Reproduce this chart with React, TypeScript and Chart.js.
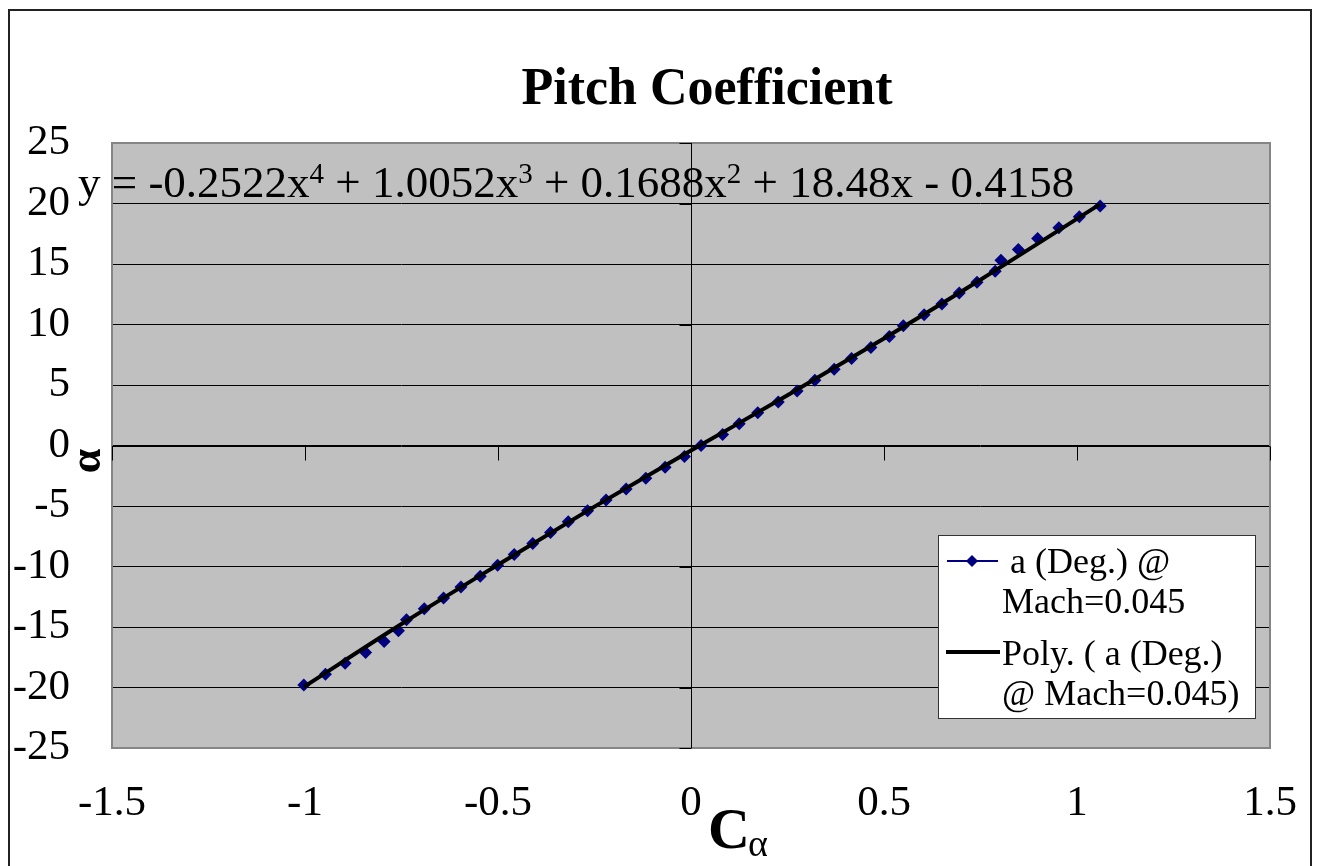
import React, { useEffect, useRef } from "react";
import { Chart, registerables } from "chart.js";

Chart.register(...registerables);

// Measured data: angle of attack (deg) vs pitch coefficient C_alpha
const alphaDeg = [
  -19.8, -18.9, -18.0, -17.1, -16.2, -15.3, -14.4, -13.5, -12.6, -11.7,
  -10.8, -9.9, -9.0, -8.1, -7.2, -6.3, -5.4, -4.5, -3.6, -2.7,
  -1.8, -0.9, 0.0, 0.9, 1.8, 2.7, 3.6, 4.5, 5.4, 6.3,
  7.2, 8.1, 9.0, 9.9, 10.8, 11.7, 12.6, 13.5, 14.4, 15.3,
  16.2, 17.1, 18.0, 18.9, 19.8,
];
const cAlpha = [
  -1.003, -0.947, -0.896, -0.843, -0.795, -0.758, -0.737, -0.691, -0.641, -0.596,
  -0.546, -0.501, -0.458, -0.41, -0.364, -0.318, -0.268, -0.22, -0.168, -0.117,
  -0.067, -0.017, 0.026, 0.082, 0.125, 0.173, 0.226, 0.275, 0.321, 0.371,
  0.416, 0.466, 0.514, 0.55, 0.604, 0.65, 0.695, 0.741, 0.788, 0.803,
  0.848, 0.898, 0.953, 1.006, 1.06,
];

// Polynomial trend line
const trendC = [-1.003, -0.75, -0.5, -0.25, 0, 0.25, 0.5, 0.75, 1.06];
const trendAlpha = [-19.95, -14.75, -9.85, -5.05, -0.42, 4.15, 8.85, 13.7, 19.95];

const xMin = -1.5, xMax = 1.5, xStep = 0.5;
const yMin = -25, yMax = 25, yStep = 5;

const titleText = "Pitch Coefficient";
const equationParts: [string, boolean][] = [
  ["y = -0.2522x", false], ["4", true],
  [" + 1.0052x", false], ["3", true],
  [" + 0.1688x", false], ["2", true],
  [" + 18.48x - 0.4158", false],
];
const legendSeries1 = ["a (Deg.) @", "Mach=0.045"];
const legendSeries2 = ["Poly. ( a (Deg.)", "@ Mach=0.045)"];

const SERIF = "'Liberation Serif', 'Times New Roman', serif";

const decor = {
  id: "decor",
  beforeDraw(chart: any) {
    const { ctx, chartArea: a, width, height } = chart;
    ctx.save();
    ctx.fillStyle = "#ffffff";
    ctx.fillRect(0, 0, width, height);
    ctx.fillStyle = "#C0C0C0";
    ctx.fillRect(a.left, a.top, a.right - a.left, a.bottom - a.top);
    ctx.strokeStyle = "#222222";
    ctx.lineWidth = 2;
    ctx.strokeRect(9, 10, 1302, 900);
    ctx.restore();
  },
  beforeDatasetsDraw(chart: any) {
    const { ctx, chartArea: a, scales } = chart;
    const xs = scales.x, ys = scales.y;
    const x0 = Math.round(xs.getPixelForValue(0)) + 0.5;
    const y0 = Math.round(ys.getPixelForValue(0)) + 0.5;
    ctx.save();
    ctx.strokeStyle = "#858585";
    ctx.lineWidth = 2;
    ctx.strokeRect(a.left, a.top, a.right - a.left, a.bottom - a.top);
    ctx.strokeStyle = "#000";
    ctx.lineWidth = 1;
    ctx.beginPath();
    ctx.moveTo(x0, a.top);
    ctx.lineTo(x0, a.bottom);
    ctx.moveTo(a.left, y0);
    ctx.lineTo(a.right, y0);
    xs.ticks.forEach((t: any) => {
      const px = Math.round(xs.getPixelForValue(t.value)) + 0.5;
      ctx.moveTo(px, y0);
      ctx.lineTo(px, y0 + 14);
    });
    ys.ticks.forEach((t: any) => {
      const py = Math.round(ys.getPixelForValue(t.value)) + 0.5;
      ctx.moveTo(x0 - 12, py);
      ctx.lineTo(x0, py);
    });
    ctx.stroke();
    ctx.restore();
  },
  afterDatasetsDraw(chart: any) {
    const { ctx } = chart;
    ctx.save();
    ctx.fillStyle = "#000";
    ctx.textBaseline = "alphabetic";

    // Title
    ctx.font = `bold 52px ${SERIF}`;
    ctx.textAlign = "center";
    ctx.fillText(titleText, 707, 104);

    // Equation
    ctx.textAlign = "left";
    let ex = 78;
    equationParts.forEach(([s, sup]) => {
      ctx.font = sup ? `29px ${SERIF}` : `45px ${SERIF}`;
      ctx.fillText(s, ex, sup ? 183 : 197);
      ex += ctx.measureText(s).width;
    });

    // Y axis title (rotated alpha)
    ctx.save();
    ctx.translate(100, 461);
    ctx.rotate(-Math.PI / 2);
    ctx.font = `bold 44px ${SERIF}`;
    ctx.textAlign = "center";
    ctx.fillText("α", 0, 0);
    ctx.restore();

    // X axis title C_alpha
    ctx.font = `bold 58px ${SERIF}`;
    ctx.textAlign = "left";
    ctx.fillText("C", 708, 848);
    ctx.font = `38px ${SERIF}`;
    ctx.fillText("α", 748, 856);

    // Legend
    const L = 938, T = 535, R = 1255, B = 718;
    ctx.fillStyle = "#fff";
    ctx.fillRect(L, T, R - L, B - T);
    ctx.strokeStyle = "#333";
    ctx.lineWidth = 1;
    ctx.strokeRect(L + 0.5, T + 0.5, R - L, B - T);
    // series 1 marker
    ctx.strokeStyle = "#000080";
    ctx.lineWidth = 2;
    ctx.beginPath();
    ctx.moveTo(947, 561);
    ctx.lineTo(998, 561);
    ctx.stroke();
    ctx.fillStyle = "#000080";
    ctx.beginPath();
    ctx.moveTo(972, 555);
    ctx.lineTo(978, 561);
    ctx.lineTo(972, 567);
    ctx.lineTo(966, 561);
    ctx.closePath();
    ctx.fill();
    // series 2 marker
    ctx.strokeStyle = "#000";
    ctx.lineWidth = 4;
    ctx.beginPath();
    ctx.moveTo(946, 652);
    ctx.lineTo(1000, 652);
    ctx.stroke();
    ctx.fillStyle = "#000";
    ctx.font = `36px ${SERIF}`;
    ctx.fillText(legendSeries1[0], 1010, 573);
    ctx.fillText(legendSeries1[1], 1002, 613);
    ctx.fillText(legendSeries2[0], 1002, 665);
    ctx.fillText(legendSeries2[1], 1002, 705);
    ctx.restore();
  },
};

export default function App() {
  const ref = useRef<HTMLCanvasElement | null>(null);
  useEffect(() => {
    if (!ref.current) return;
    const chart = new Chart(ref.current, {
      type: "scatter",
      data: {
        datasets: [
          {
            label: "a (Deg.) @ Mach=0.045",
            data: cAlpha.map((c, i) => ({ x: c, y: alphaDeg[i] })),
            showLine: false,
            borderColor: "#000080",
            borderWidth: 1,
            backgroundColor: "#000080",
            pointStyle: "rectRot",
            pointRadius: 6.5,
            pointBorderWidth: 0,
            order: 2,
          },
          {
            label: "Poly. ( a (Deg.) @ Mach=0.045)",
            data: trendC.map((c, i) => ({ x: c, y: trendAlpha[i] })),
            showLine: true,
            borderColor: "#000",
            borderWidth: 4,
            pointRadius: 0,
            cubicInterpolationMode: "monotone",
            order: 1,
          },
        ],
      },
      options: {
        animation: false,
        responsive: false,
        devicePixelRatio: 1,
        layout: { padding: { left: 0, right: 49, top: 143, bottom: 0 } },
        plugins: {
          legend: { display: false },
          tooltip: { enabled: false },
          title: { display: false },
        },
        scales: {
          x: {
            type: "linear",
            min: xMin,
            max: xMax,
            ticks: {
              stepSize: xStep,
              color: "#000",
              font: { family: SERIF, size: 43 },
              padding: 30,
              callback: (v: any) => String(Number(v)),
            },
            grid: { display: false, drawTicks: false },
            border: { display: false },
            afterFit: (s: any) => {
              s.height = 118;
              s.paddingLeft = 0;
              s.paddingRight = 0;
            },
          },
          y: {
            type: "linear",
            min: yMin,
            max: yMax,
            ticks: {
              stepSize: yStep,
              color: "#000",
              font: { family: SERIF, size: 43 },
              padding: 42,
            },
            grid: { color: "#000", lineWidth: 1, drawTicks: false },
            border: { display: false },
            afterFit: (s: any) => {
              s.width = 112;
              s.paddingTop = 0;
              s.paddingBottom = 0;
            },
          },
        },
      },
      plugins: [decor],
    });
    return () => chart.destroy();
  }, []);
  return (
    <div style={{ position: "absolute", left: 0, top: 0, width: 1319, height: 866 }}>
      <canvas ref={ref} width={1319} height={866} style={{ width: 1319, height: 866, display: "block" }} />
    </div>
  );
}
